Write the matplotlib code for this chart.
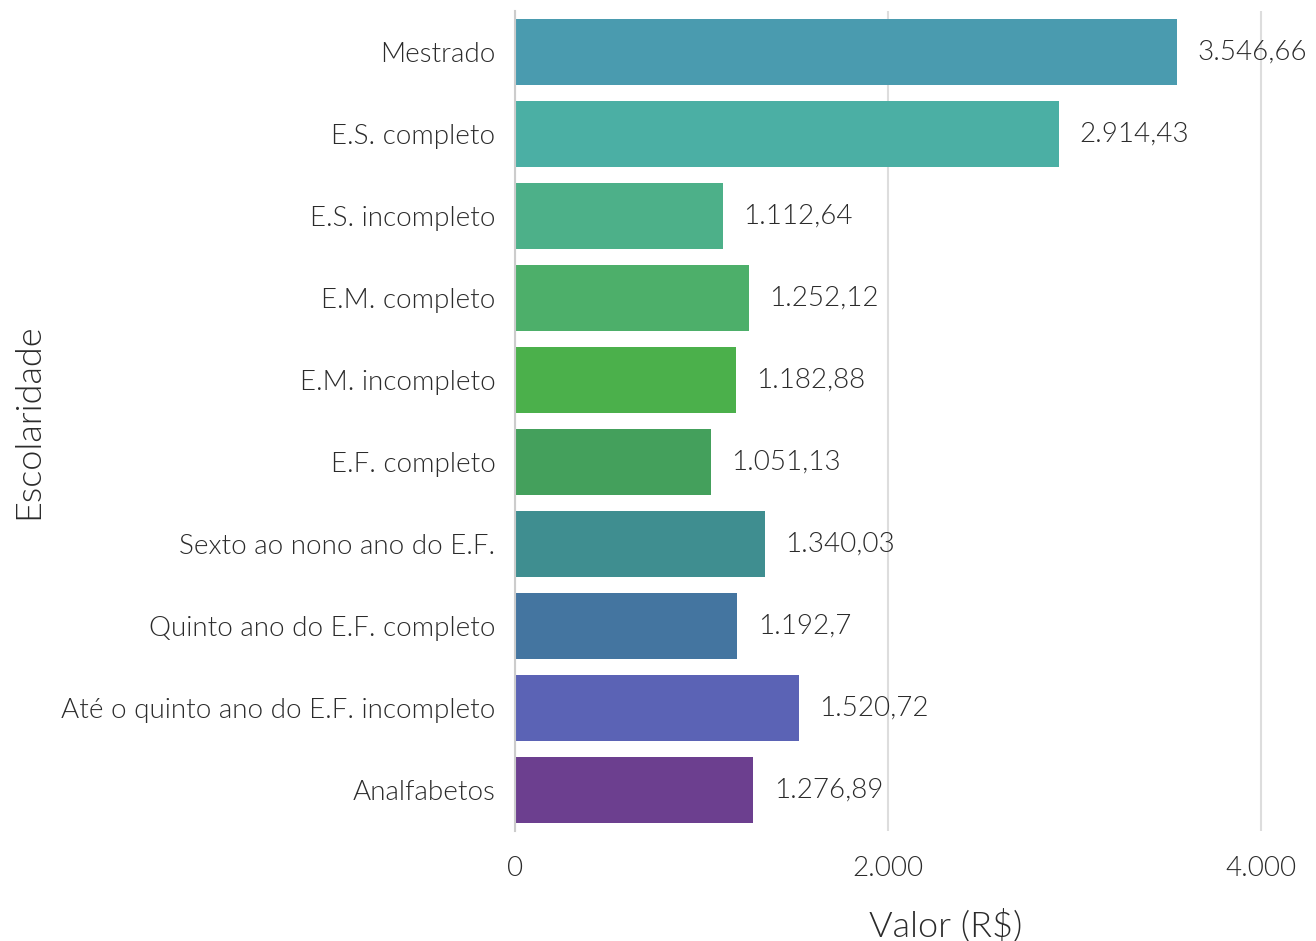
import matplotlib
matplotlib.use("Agg")
import matplotlib.pyplot as plt
from matplotlib.ticker import FuncFormatter

# --- dados ---
categorias = [
    "Mestrado",
    "E.S. completo",
    "E.S. incompleto",
    "E.M. completo",
    "E.M. incompleto",
    "E.F. completo",
    "Sexto ao nono ano do E.F.",
    "Quinto ano do E.F. completo",
    "Até o quinto ano do E.F. incompleto",
    "Analfabetos",
]
valores = [3546.66, 2914.43, 1112.64, 1252.12, 1182.88, 1051.13, 1340.03, 1192.70, 1520.72, 1276.89]
cores = ["#4A9BAF", "#4BAFA4", "#4DB089", "#4DAF6A", "#4BB04B",
         "#44A05C", "#3F8E90", "#4475A0", "#5B63B5", "#6C3F8F"]


def fmt_br(v, decimais=2):
    s = f"{v:,.{decimais}f}"
    if "." in s:
        s = s.rstrip("0").rstrip(".")
    return s.replace(",", "X").replace(".", ",").replace("X", ".")


plt.rcParams["font.family"] = ["Lato", "DejaVu Sans"]
plt.rcParams["font.weight"] = 300
plt.rcParams["axes.labelweight"] = 300
texto = "#2B2B2B"

fig = plt.figure(figsize=(13.16, 9.41), dpi=100)
ax = fig.add_axes([0.3913, 0.1169, 0.5989, 0.8711])

y = list(range(len(categorias)))
ax.barh(y, valores, height=0.805, color=cores, zorder=2)

for yi, v in zip(y, valores):
    ax.text(v + 110, yi, fmt_br(v), va="center", ha="left",
            fontsize=20, color=texto, fontweight=300, zorder=3)

ax.set_yticks(y)
ax.set_yticklabels(categorias)
ax.set_ylim(len(categorias) - 0.5, -0.5)
ax.set_xlim(0, 4225)
ax.set_xticks([0, 2000, 4000])
ax.xaxis.set_major_formatter(FuncFormatter(lambda v, p: fmt_br(v, 0)))

ax.tick_params(axis="both", length=0, labelsize=20, labelcolor=texto)
ax.tick_params(axis="y", pad=14)
ax.tick_params(axis="x", pad=18)

ax.grid(axis="x", color="#DDDDDD", linewidth=1.5, zorder=0)
for s in ["top", "right", "bottom"]:
    ax.spines[s].set_visible(False)
ax.spines["left"].set_color("#CCCCCC")
ax.spines["left"].set_linewidth(1.5)

ax.set_xlabel("Valor (R$)", fontsize=26, color=texto, va="center", ha="center")
ax.xaxis.set_label_coords(0.546, -0.115)
ax.set_ylabel("Escolaridade", fontsize=26, color=texto, va="center", ha="center")
ax.yaxis.set_label_coords(-0.618, 0.5)

fig.savefig("out.png", dpi=100)
